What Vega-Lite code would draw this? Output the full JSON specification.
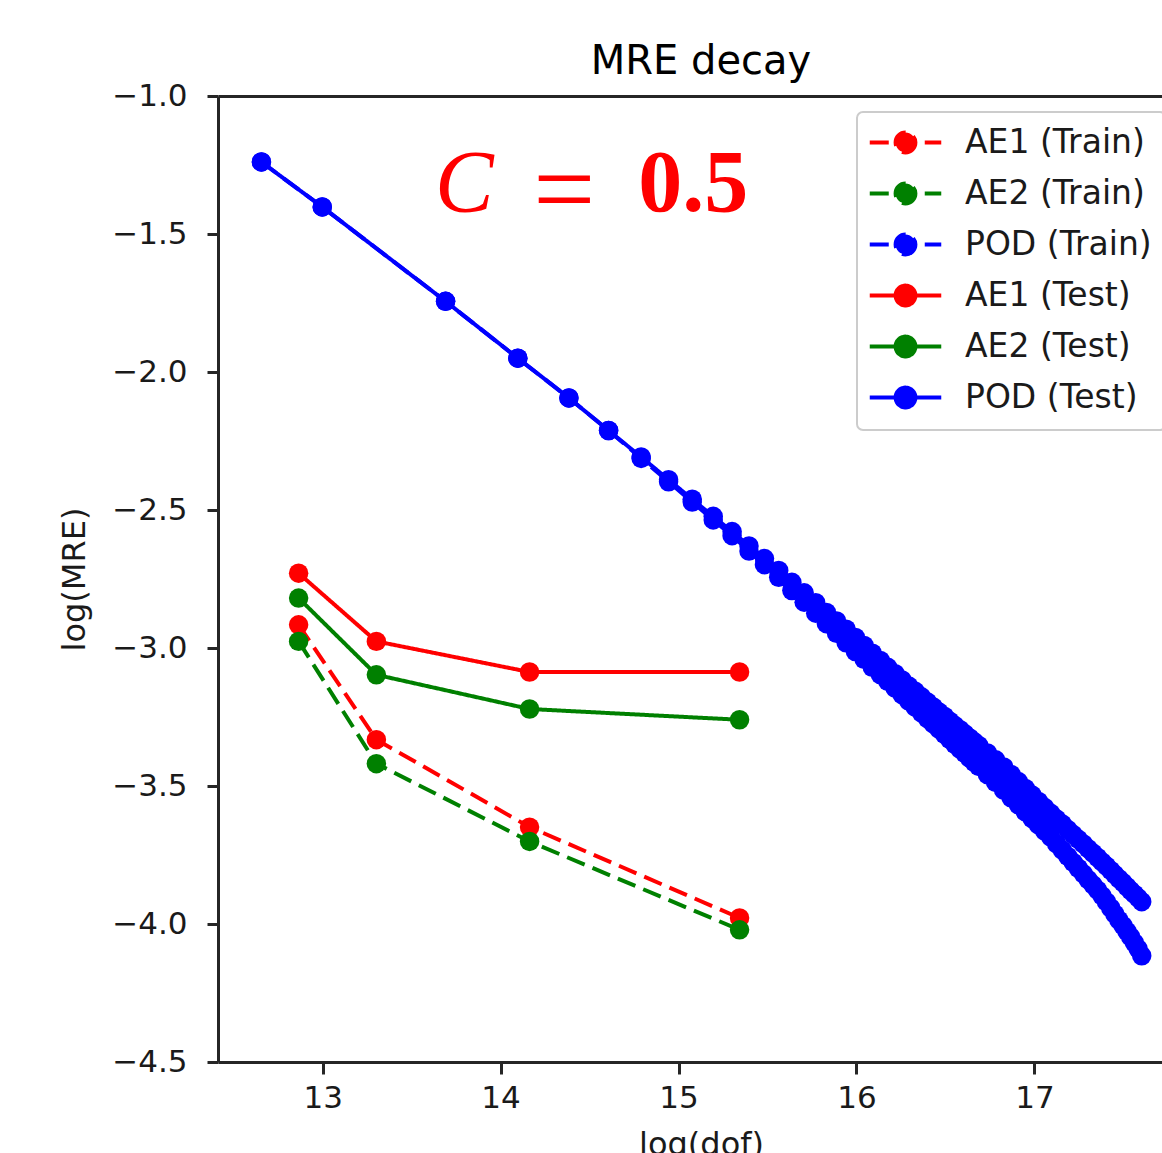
{
  "$schema": "https://vega.github.io/schema/vega-lite/v6.json",
  "width": 944,
  "height": 966,
  "autosize": {"type": "none"},
  "padding": {"left": 218, "top": 96, "right": 0, "bottom": 91},
  "background": "white",
  "config": {"view": {"stroke": null}, "font": "DejaVu Sans"},
  "title": {"text": "MRE decay", "font": "DejaVu Sans", "fontSize": 40, "fontWeight": "normal", "color": "#000000", "anchor": "middle", "frame": "group", "dx": 11, "offset": -34, "baseline": "alphabetic"},
  "resolve": {"axis": {"x": "independent"}},
  "datasets": {
    "series": [
      {"series": "AE1 (Train)", "logdof": 12.865, "logmre": -2.916},
      {"series": "AE1 (Train)", "logdof": 13.302, "logmre": -3.332},
      {"series": "AE1 (Train)", "logdof": 14.163, "logmre": -3.649},
      {"series": "AE1 (Train)", "logdof": 15.343, "logmre": -3.978},
      {"series": "AE2 (Train)", "logdof": 12.865, "logmre": -2.976},
      {"series": "AE2 (Train)", "logdof": 13.302, "logmre": -3.419},
      {"series": "AE2 (Train)", "logdof": 14.163, "logmre": -3.701},
      {"series": "AE2 (Train)", "logdof": 15.343, "logmre": -4.021},
      {"series": "POD (Train)", "logdof": 12.656, "logmre": -1.239},
      {"series": "POD (Train)", "logdof": 12.998, "logmre": -1.402},
      {"series": "POD (Train)", "logdof": 13.691, "logmre": -1.744},
      {"series": "POD (Train)", "logdof": 14.097, "logmre": -1.950},
      {"series": "POD (Train)", "logdof": 14.384, "logmre": -2.094},
      {"series": "POD (Train)", "logdof": 14.607, "logmre": -2.212},
      {"series": "POD (Train)", "logdof": 14.790, "logmre": -2.313},
      {"series": "POD (Train)", "logdof": 14.944, "logmre": -2.398},
      {"series": "POD (Train)", "logdof": 15.077, "logmre": -2.471},
      {"series": "POD (Train)", "logdof": 15.195, "logmre": -2.536},
      {"series": "POD (Train)", "logdof": 15.301, "logmre": -2.593},
      {"series": "POD (Train)", "logdof": 15.396, "logmre": -2.649},
      {"series": "POD (Train)", "logdof": 15.483, "logmre": -2.698},
      {"series": "POD (Train)", "logdof": 15.563, "logmre": -2.744},
      {"series": "POD (Train)", "logdof": 15.637, "logmre": -2.792},
      {"series": "POD (Train)", "logdof": 15.706, "logmre": -2.834},
      {"series": "POD (Train)", "logdof": 15.771, "logmre": -2.874},
      {"series": "POD (Train)", "logdof": 15.831, "logmre": -2.912},
      {"series": "POD (Train)", "logdof": 15.888, "logmre": -2.947},
      {"series": "POD (Train)", "logdof": 15.942, "logmre": -2.981},
      {"series": "POD (Train)", "logdof": 15.994, "logmre": -3.013},
      {"series": "POD (Train)", "logdof": 16.043, "logmre": -3.041},
      {"series": "POD (Train)", "logdof": 16.089, "logmre": -3.070},
      {"series": "POD (Train)", "logdof": 16.134, "logmre": -3.096},
      {"series": "POD (Train)", "logdof": 16.176, "logmre": -3.121},
      {"series": "POD (Train)", "logdof": 16.217, "logmre": -3.145},
      {"series": "POD (Train)", "logdof": 16.256, "logmre": -3.169},
      {"series": "POD (Train)", "logdof": 16.294, "logmre": -3.192},
      {"series": "POD (Train)", "logdof": 16.330, "logmre": -3.214},
      {"series": "POD (Train)", "logdof": 16.365, "logmre": -3.235},
      {"series": "POD (Train)", "logdof": 16.399, "logmre": -3.256},
      {"series": "POD (Train)", "logdof": 16.432, "logmre": -3.275},
      {"series": "POD (Train)", "logdof": 16.464, "logmre": -3.294},
      {"series": "POD (Train)", "logdof": 16.495, "logmre": -3.313},
      {"series": "POD (Train)", "logdof": 16.524, "logmre": -3.331},
      {"series": "POD (Train)", "logdof": 16.553, "logmre": -3.349},
      {"series": "POD (Train)", "logdof": 16.582, "logmre": -3.366},
      {"series": "POD (Train)", "logdof": 16.609, "logmre": -3.382},
      {"series": "POD (Train)", "logdof": 16.636, "logmre": -3.399},
      {"series": "POD (Train)", "logdof": 16.662, "logmre": -3.414},
      {"series": "POD (Train)", "logdof": 16.687, "logmre": -3.429},
      {"series": "POD (Train)", "logdof": 16.736, "logmre": -3.459},
      {"series": "POD (Train)", "logdof": 16.782, "logmre": -3.487},
      {"series": "POD (Train)", "logdof": 16.827, "logmre": -3.515},
      {"series": "POD (Train)", "logdof": 16.869, "logmre": -3.543},
      {"series": "POD (Train)", "logdof": 16.910, "logmre": -3.568},
      {"series": "POD (Train)", "logdof": 16.949, "logmre": -3.594},
      {"series": "POD (Train)", "logdof": 16.987, "logmre": -3.618},
      {"series": "POD (Train)", "logdof": 17.023, "logmre": -3.641},
      {"series": "POD (Train)", "logdof": 17.058, "logmre": -3.663},
      {"series": "POD (Train)", "logdof": 17.092, "logmre": -3.685},
      {"series": "POD (Train)", "logdof": 17.125, "logmre": -3.710},
      {"series": "POD (Train)", "logdof": 17.157, "logmre": -3.732},
      {"series": "POD (Train)", "logdof": 17.188, "logmre": -3.755},
      {"series": "POD (Train)", "logdof": 17.218, "logmre": -3.777},
      {"series": "POD (Train)", "logdof": 17.247, "logmre": -3.798},
      {"series": "POD (Train)", "logdof": 17.275, "logmre": -3.818},
      {"series": "POD (Train)", "logdof": 17.302, "logmre": -3.839},
      {"series": "POD (Train)", "logdof": 17.329, "logmre": -3.858},
      {"series": "POD (Train)", "logdof": 17.355, "logmre": -3.877},
      {"series": "POD (Train)", "logdof": 17.380, "logmre": -3.898},
      {"series": "POD (Train)", "logdof": 17.405, "logmre": -3.920},
      {"series": "POD (Train)", "logdof": 17.429, "logmre": -3.942},
      {"series": "POD (Train)", "logdof": 17.452, "logmre": -3.964},
      {"series": "POD (Train)", "logdof": 17.475, "logmre": -3.986},
      {"series": "POD (Train)", "logdof": 17.498, "logmre": -4.006},
      {"series": "POD (Train)", "logdof": 17.520, "logmre": -4.027},
      {"series": "POD (Train)", "logdof": 17.541, "logmre": -4.047},
      {"series": "POD (Train)", "logdof": 17.562, "logmre": -4.068},
      {"series": "POD (Train)", "logdof": 17.583, "logmre": -4.090},
      {"series": "POD (Train)", "logdof": 17.603, "logmre": -4.115},
      {"series": "AE1 (Test)", "logdof": 12.865, "logmre": -2.729},
      {"series": "AE1 (Test)", "logdof": 13.302, "logmre": -2.976},
      {"series": "AE1 (Test)", "logdof": 14.163, "logmre": -3.087},
      {"series": "AE1 (Test)", "logdof": 15.343, "logmre": -3.087},
      {"series": "AE2 (Test)", "logdof": 12.865, "logmre": -2.819},
      {"series": "AE2 (Test)", "logdof": 13.302, "logmre": -3.097},
      {"series": "AE2 (Test)", "logdof": 14.163, "logmre": -3.221},
      {"series": "AE2 (Test)", "logdof": 15.343, "logmre": -3.260},
      {"series": "POD (Test)", "logdof": 12.656, "logmre": -1.239},
      {"series": "POD (Test)", "logdof": 12.998, "logmre": -1.402},
      {"series": "POD (Test)", "logdof": 13.691, "logmre": -1.744},
      {"series": "POD (Test)", "logdof": 14.097, "logmre": -1.950},
      {"series": "POD (Test)", "logdof": 14.384, "logmre": -2.094},
      {"series": "POD (Test)", "logdof": 14.607, "logmre": -2.212},
      {"series": "POD (Test)", "logdof": 14.790, "logmre": -2.308},
      {"series": "POD (Test)", "logdof": 14.944, "logmre": -2.390},
      {"series": "POD (Test)", "logdof": 15.077, "logmre": -2.461},
      {"series": "POD (Test)", "logdof": 15.195, "logmre": -2.523},
      {"series": "POD (Test)", "logdof": 15.301, "logmre": -2.578},
      {"series": "POD (Test)", "logdof": 15.396, "logmre": -2.630},
      {"series": "POD (Test)", "logdof": 15.483, "logmre": -2.676},
      {"series": "POD (Test)", "logdof": 15.563, "logmre": -2.719},
      {"series": "POD (Test)", "logdof": 15.637, "logmre": -2.762},
      {"series": "POD (Test)", "logdof": 15.706, "logmre": -2.800},
      {"series": "POD (Test)", "logdof": 15.771, "logmre": -2.836},
      {"series": "POD (Test)", "logdof": 15.831, "logmre": -2.871},
      {"series": "POD (Test)", "logdof": 15.888, "logmre": -2.902},
      {"series": "POD (Test)", "logdof": 15.942, "logmre": -2.932},
      {"series": "POD (Test)", "logdof": 15.994, "logmre": -2.962},
      {"series": "POD (Test)", "logdof": 16.043, "logmre": -2.991},
      {"series": "POD (Test)", "logdof": 16.089, "logmre": -3.019},
      {"series": "POD (Test)", "logdof": 16.134, "logmre": -3.045},
      {"series": "POD (Test)", "logdof": 16.176, "logmre": -3.070},
      {"series": "POD (Test)", "logdof": 16.217, "logmre": -3.093},
      {"series": "POD (Test)", "logdof": 16.256, "logmre": -3.116},
      {"series": "POD (Test)", "logdof": 16.294, "logmre": -3.138},
      {"series": "POD (Test)", "logdof": 16.330, "logmre": -3.157},
      {"series": "POD (Test)", "logdof": 16.365, "logmre": -3.177},
      {"series": "POD (Test)", "logdof": 16.399, "logmre": -3.196},
      {"series": "POD (Test)", "logdof": 16.432, "logmre": -3.214},
      {"series": "POD (Test)", "logdof": 16.464, "logmre": -3.232},
      {"series": "POD (Test)", "logdof": 16.495, "logmre": -3.248},
      {"series": "POD (Test)", "logdof": 16.524, "logmre": -3.265},
      {"series": "POD (Test)", "logdof": 16.553, "logmre": -3.281},
      {"series": "POD (Test)", "logdof": 16.582, "logmre": -3.296},
      {"series": "POD (Test)", "logdof": 16.609, "logmre": -3.311},
      {"series": "POD (Test)", "logdof": 16.636, "logmre": -3.326},
      {"series": "POD (Test)", "logdof": 16.662, "logmre": -3.340},
      {"series": "POD (Test)", "logdof": 16.687, "logmre": -3.353},
      {"series": "POD (Test)", "logdof": 16.736, "logmre": -3.380},
      {"series": "POD (Test)", "logdof": 16.782, "logmre": -3.405},
      {"series": "POD (Test)", "logdof": 16.827, "logmre": -3.431},
      {"series": "POD (Test)", "logdof": 16.869, "logmre": -3.458},
      {"series": "POD (Test)", "logdof": 16.910, "logmre": -3.484},
      {"series": "POD (Test)", "logdof": 16.949, "logmre": -3.509},
      {"series": "POD (Test)", "logdof": 16.987, "logmre": -3.533},
      {"series": "POD (Test)", "logdof": 17.023, "logmre": -3.556},
      {"series": "POD (Test)", "logdof": 17.058, "logmre": -3.578},
      {"series": "POD (Test)", "logdof": 17.092, "logmre": -3.599},
      {"series": "POD (Test)", "logdof": 17.125, "logmre": -3.620},
      {"series": "POD (Test)", "logdof": 17.157, "logmre": -3.638},
      {"series": "POD (Test)", "logdof": 17.188, "logmre": -3.658},
      {"series": "POD (Test)", "logdof": 17.218, "logmre": -3.676},
      {"series": "POD (Test)", "logdof": 17.247, "logmre": -3.693},
      {"series": "POD (Test)", "logdof": 17.275, "logmre": -3.710},
      {"series": "POD (Test)", "logdof": 17.302, "logmre": -3.727},
      {"series": "POD (Test)", "logdof": 17.329, "logmre": -3.743},
      {"series": "POD (Test)", "logdof": 17.355, "logmre": -3.759},
      {"series": "POD (Test)", "logdof": 17.380, "logmre": -3.775},
      {"series": "POD (Test)", "logdof": 17.405, "logmre": -3.790},
      {"series": "POD (Test)", "logdof": 17.429, "logmre": -3.806},
      {"series": "POD (Test)", "logdof": 17.452, "logmre": -3.821},
      {"series": "POD (Test)", "logdof": 17.475, "logmre": -3.836},
      {"series": "POD (Test)", "logdof": 17.498, "logmre": -3.850},
      {"series": "POD (Test)", "logdof": 17.520, "logmre": -3.865},
      {"series": "POD (Test)", "logdof": 17.541, "logmre": -3.879},
      {"series": "POD (Test)", "logdof": 17.562, "logmre": -3.892},
      {"series": "POD (Test)", "logdof": 17.583, "logmre": -3.905},
      {"series": "POD (Test)", "logdof": 17.603, "logmre": -3.919}
    ],
    "noteC": [{"label": "C", "logdof": 13.796, "logmre": -1.4165}],
    "noteEq": [{"label": "=", "logdof": 14.358, "logmre": -1.47}],
    "noteVal": [{"label": "0.5", "logdof": 15.083, "logmre": -1.4165}]
  },
  "layer": [
    {
      "data": {"name": "series"},
      "mark": {"type": "line", "strokeWidth": 4, "point": {"filled": true, "size": 380, "opacity": 1}},
      "encoding": {
        "x": {
          "field": "logdof", "type": "quantitative",
          "scale": {"domain": [12.412, 17.717], "nice": false, "zero": false},
          "axis": {
            "values": [13, 14, 15, 16, 17], "format": "d", "grid": false,
            "domainColor": "#262626", "domainWidth": 3, "tickColor": "#262626", "tickWidth": 3, "tickSize": 12,
            "labelFont": "DejaVu Sans", "labelFontSize": 31, "labelColor": "#1a1a1a", "labelPadding": 9,
            "title": "log(dof)", "titleFont": "DejaVu Sans", "titleFontSize": 32, "titleFontWeight": "normal", "titleColor": "#1a1a1a",
            "titlePadding": 16, "titleX": 483
          }
        },
        "y": {
          "field": "logmre", "type": "quantitative",
          "scale": {"domain": [-4.5, -1.0], "nice": false, "zero": false},
          "axis": {
            "values": [-1.0, -1.5, -2.0, -2.5, -3.0, -3.5, -4.0, -4.5], "format": ".1f", "grid": false,
            "domainColor": "#262626", "domainWidth": 3, "tickColor": "#262626", "tickWidth": 3, "tickSize": 11,
            "labelFont": "DejaVu Sans", "labelFontSize": 31, "labelColor": "#1a1a1a", "labelPadding": 20,
            "title": "log(MRE)", "titleFont": "DejaVu Sans", "titleFontSize": 32, "titleFontWeight": "normal", "titleColor": "#1a1a1a",
            "titlePadding": 20
          }
        },
        "color": {
          "field": "series", "type": "nominal",
          "scale": {
            "domain": ["AE1 (Train)", "AE2 (Train)", "POD (Train)", "AE1 (Test)", "AE2 (Test)", "POD (Test)"],
            "range": ["#ff0000", "#008000", "#0000ff", "#ff0000", "#008000", "#0000ff"]
          },
          "legend": {
            "title": null, "orient": "none", "legendX": 639, "legendY": 16,
            "fillColor": "white", "strokeColor": "#cccccc", "cornerRadius": 6, "padding": 14,
            "symbolType": "M-3.25,0H3.25M0.9,0A0.9,0.9,0,1,1,-0.9,0A0.9,0.9,0,1,1,0.9,0Z",
            "symbolSize": 484, "symbolStrokeWidth": 4, "symbolOffset": 18,
            "labelFont": "DejaVu Sans", "labelFontSize": 33, "labelColor": "#1a1a1a", "labelOffset": 43, "labelLimit": 400,
            "rowPadding": 14,
            "encode": {"legend": {"update": {"strokeWidth": {"value": 2}}}}
          }
        },
        "strokeDash": {
          "field": "series", "type": "nominal",
          "scale": {
            "domain": ["AE1 (Train)", "AE2 (Train)", "POD (Train)", "AE1 (Test)", "AE2 (Test)", "POD (Test)"],
            "range": [[19, 8.5], [19, 8.5], [19, 8.5], [1, 0], [1, 0], [1, 0]]
          },
          "legend": {
            "title": null, "orient": "none", "legendX": 639, "legendY": 16,
            "fillColor": "white", "strokeColor": "#cccccc", "cornerRadius": 6, "padding": 14,
            "symbolType": "M-3.25,0H3.25M0.9,0A0.9,0.9,0,1,1,-0.9,0A0.9,0.9,0,1,1,0.9,0Z",
            "symbolSize": 484, "symbolStrokeWidth": 4, "symbolOffset": 18,
            "labelFont": "DejaVu Sans", "labelFontSize": 33, "labelColor": "#1a1a1a", "labelOffset": 43, "labelLimit": 400,
            "rowPadding": 14
          }
        }
      }
    },
    {
      "data": {"name": "noteC"},
      "mark": {"type": "point", "opacity": 0},
      "encoding": {
        "x": {"field": "logdof", "type": "quantitative",
              "axis": {"orient": "top", "labels": false, "ticks": false, "title": null, "grid": false, "domainColor": "#262626", "domainWidth": 3}}
      }
    },
    {
      "data": {"name": "noteC"},
      "mark": {"type": "text", "font": "Liberation Serif", "fontStyle": "italic", "fontSize": 88, "color": "#ff0000", "align": "center", "baseline": "alphabetic"},
      "encoding": {"x": {"field": "logdof", "type": "quantitative", "axis": null}, "y": {"field": "logmre", "type": "quantitative"}, "text": {"field": "label"}}
    },
    {
      "data": {"name": "noteEq"},
      "mark": {"type": "text", "font": "Liberation Serif", "fontSize": 110, "color": "#ff0000", "align": "center", "baseline": "alphabetic"},
      "encoding": {"x": {"field": "logdof", "type": "quantitative", "axis": null}, "y": {"field": "logmre", "type": "quantitative"}, "text": {"field": "label"}}
    },
    {
      "data": {"name": "noteVal"},
      "mark": {"type": "text", "font": "Liberation Serif", "fontWeight": "bold", "fontSize": 88, "color": "#ff0000", "align": "center", "baseline": "alphabetic"},
      "encoding": {"x": {"field": "logdof", "type": "quantitative", "axis": null}, "y": {"field": "logmre", "type": "quantitative"}, "text": {"field": "label"}}
    }
  ]
}
